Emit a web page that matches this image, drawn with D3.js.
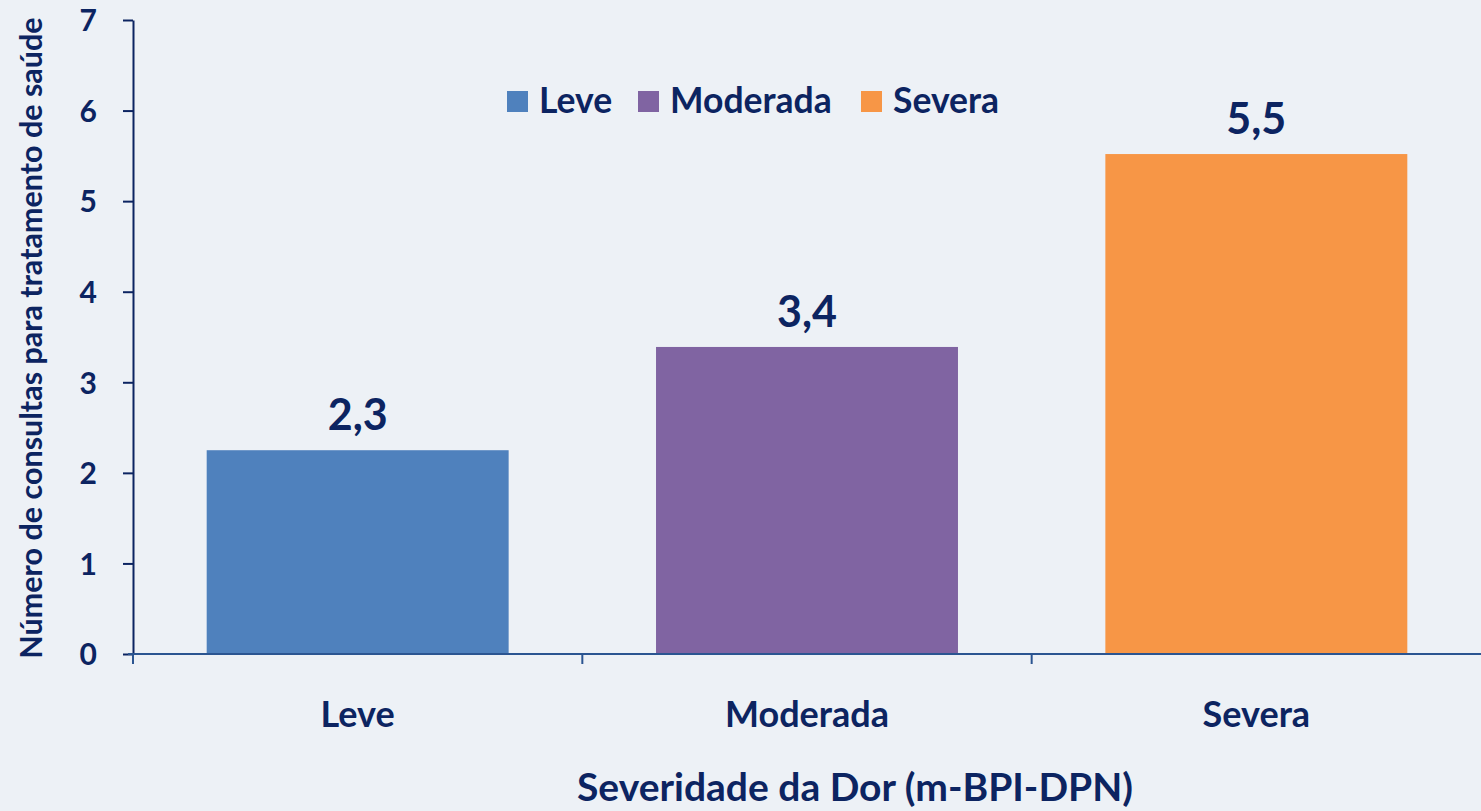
<!DOCTYPE html>
<html>
<head>
<meta charset="utf-8">
<script src="https://cdn.jsdelivr.net/npm/d3@7"></script>
<style>
  body { margin: 0; background: #edf1f6; }
  text { font-family: Lato, "Open Sans", sans-serif; font-weight: bold; fill: #0c2461; }
</style>
</head>
<body>
<div id="chart"></div>
<script>
// data
const categories = ["Leve", "Moderada", "Severa"];
const visits = [2.25, 3.39, 5.52];
const barColors = ["#4f81bd", "#8064a2", "#f79646"];
const yTicks = [0, 1, 2, 3, 4, 5, 6, 7];

const width = 1481;
const height = 811;
const margin = { top: 20, right: 0, bottom: 157, left: 133 };

const ptBR = d3.formatLocale({ decimal: ",", thousands: ".", grouping: [3], currency: ["R$", ""] });
const fmt = ptBR.format(".1f");

const svg = d3.select("#chart")
  .append("svg")
    .attr("width", width)
    .attr("height", height);

svg.append("rect")
  .attr("width", width)
  .attr("height", height)
  .attr("fill", "#edf1f6");

const x = d3.scaleBand()
  .domain(categories)
  .range([margin.left, width - margin.right])
  .paddingInner(0.328)
  .paddingOuter(0.164);

const y = d3.scaleLinear()
  .domain([0, 7])
  .range([height - margin.bottom, margin.top]);

// bars
svg.selectAll(".bar")
  .data(categories)
  .join("rect")
    .attr("class", "bar")
    .attr("x", d => x(d))
    .attr("y", (d, i) => y(visits[i]))
    .attr("width", x.bandwidth())
    .attr("height", (d, i) => y(0) - y(visits[i]))
    .attr("fill", (d, i) => barColors[i]);

// value labels
svg.selectAll(".value")
  .data(categories)
  .join("text")
    .attr("class", "value")
    .attr("x", d => x(d) + x.bandwidth() / 2)
    .attr("y", (d, i) => y(visits[i]) - 20)
    .attr("text-anchor", "middle")
    .style("font-size", "43px")
    .text((d, i) => fmt(visits[i]));

// y axis
const yAxis = svg.append("g")
  .attr("transform", `translate(${margin.left},0)`)
  .call(d3.axisLeft(y).tickValues(yTicks).tickFormat(d3.format("d"))
    .tickSize(10).tickPadding(26).tickSizeOuter(0));
yAxis.select(".domain").attr("stroke", "#0c2461").attr("stroke-width", 2);
yAxis.selectAll(".tick line").attr("stroke", "#0c2461").attr("stroke-width", 2);
yAxis.selectAll(".tick text")
  .attr("fill", "#0c2461")
  .attr("dy", "0.36em")
  .style("font-size", "30px")
  .style("font-family", "Lato, sans-serif")
  .style("font-weight", "bold");

// x axis: line with ticks between categories
const xBase = y(0);
svg.append("line")
  .attr("x1", margin.left - 5)
  .attr("x2", width)
  .attr("y1", xBase)
  .attr("y2", xBase)
  .attr("stroke", "#2b5591")
  .attr("stroke-width", 2);

const bounds = categories.map(d => x(d) - x.step() * x.paddingInner() / 2);
svg.selectAll(".xtick")
  .data(bounds)
  .join("line")
    .attr("class", "xtick")
    .attr("x1", d => d)
    .attr("x2", d => d)
    .attr("y1", xBase)
    .attr("y2", xBase + 10)
    .attr("stroke", "#2b5591")
    .attr("stroke-width", 2);

svg.selectAll(".xlabel")
  .data(categories)
  .join("text")
    .attr("class", "xlabel")
    .attr("x", d => x(d) + x.bandwidth() / 2)
    .attr("y", 727)
    .attr("text-anchor", "middle")
    .style("font-size", "36px")
    .text(d => d);

// axis titles
svg.append("text")
  .attr("x", 855)
  .attr("y", 801)
  .attr("text-anchor", "middle")
  .style("font-size", "39px")
  .text("Severidade da Dor (m-BPI-DPN)");

svg.append("text")
  .attr("transform", "translate(42,338) rotate(-90)")
  .attr("text-anchor", "middle")
  .style("font-size", "30.5px")
  .text("Número de consultas para tratamento de saúde");

// legend
const legendX = [507, 638, 861];
const legend = svg.selectAll(".legend")
  .data(categories)
  .join("g")
    .attr("class", "legend")
    .attr("transform", (d, i) => `translate(${legendX[i]},91)`);

legend.append("rect")
  .attr("width", 21)
  .attr("height", 21)
  .attr("fill", (d, i) => barColors[i]);

legend.append("text")
  .attr("x", 32)
  .attr("y", 22)
  .style("font-size", "35.5px")
  .text(d => d);
</script>
</body>
</html>
